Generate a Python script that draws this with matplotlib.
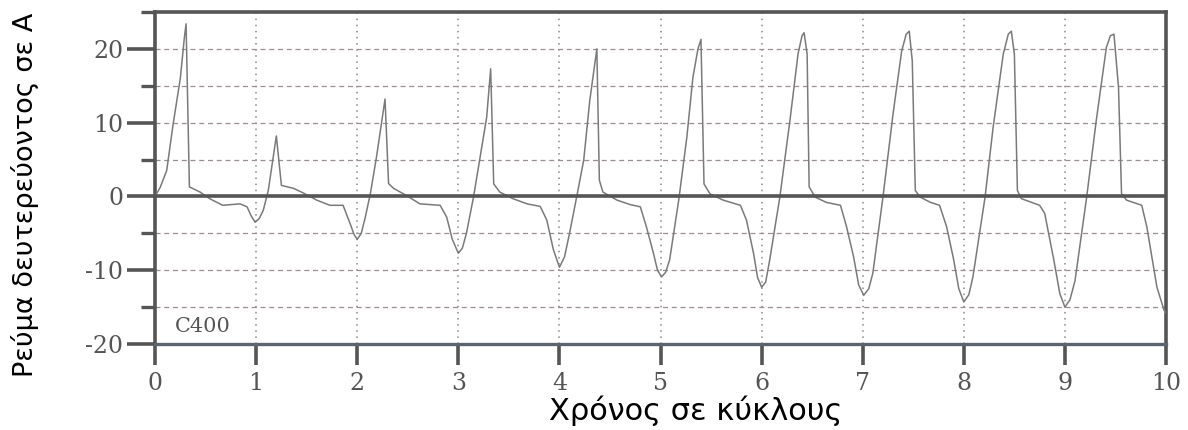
import numpy as np
import matplotlib.pyplot as plt
from matplotlib.ticker import MultipleLocator

plt.rcParams['axes.unicode_minus'] = False

# secondary current (time in cycles, current in A)
t_cycles = [0.0, 0.05, 0.115, 0.18, 0.25, 0.29, 0.307, 0.34, 0.445, 0.54, 0.67, 0.84, 0.91, 0.95, 0.99,
            1.03, 1.07, 1.12, 1.16, 1.2, 1.25, 1.37, 1.47, 1.6, 1.73, 1.86, 1.93, 1.97,
            2.0, 2.04, 2.08, 2.13, 2.19, 2.24, 2.275, 2.31, 2.36, 2.49, 2.62, 2.82, 2.885, 2.94,
            3.0, 3.04, 3.08, 3.15, 3.21, 3.28, 3.32, 3.35, 3.41, 3.54, 3.68, 3.81, 3.875, 3.94,
            4.0, 4.05, 4.1, 4.17, 4.24, 4.3, 4.37, 4.395, 4.43, 4.57, 4.70, 4.80, 4.86, 4.93, 4.97,
            5.01, 5.05, 5.09, 5.18, 5.26, 5.32, 5.37, 5.40, 5.43, 5.49, 5.62, 5.79, 5.85, 5.92, 5.96,
            6.0, 6.04, 6.08, 6.18, 6.28, 6.36, 6.40, 6.42, 6.45, 6.47, 6.53, 6.64, 6.78, 6.84, 6.91, 6.96,
            7.01, 7.06, 7.10, 7.20, 7.30, 7.385, 7.43, 7.46, 7.49, 7.52, 7.57, 7.67, 7.76, 7.83, 7.90, 7.95,
            8.0, 8.05, 8.09, 8.21, 8.29, 8.39, 8.44, 8.47, 8.50, 8.53, 8.57, 8.75, 8.80, 8.89, 8.95,
            9.0, 9.05, 9.10, 9.215, 9.31, 9.41, 9.45, 9.485, 9.53, 9.56, 9.61, 9.76, 9.81, 9.91, 9.98, 10.0]
i_sec = [0.0, 1.2, 3.5, 9.9, 16.0, 21.5, 23.4, 1.3, 0.6, -0.3, -1.2, -1.0, -1.4, -2.6, -3.5,
         -3.0, -1.9, 0.8, 4.5, 8.2, 1.5, 1.1, 0.45, -0.5, -1.2, -1.2, -3.7, -5.2,
         -5.8, -5.0, -2.8, 0.4, 5.3, 9.9, 13.2, 1.75, 1.1, 0.1, -1.0, -1.2, -2.8, -5.8,
         -7.7, -7.0, -5.0, -0.1, 4.9, 10.7, 17.3, 1.7, 0.6, -0.3, -1.0, -1.35, -3.2, -7.2,
         -9.6, -8.2, -5.0, -0.1, 4.9, 13.0, 20.0, 2.2, 0.6, -0.5, -1.1, -1.4, -4.1, -7.7, -10.0,
         -10.9, -10.3, -8.6, -0.5, 8.0, 16.1, 20.0, 21.3, 1.7, 0.35, -0.5, -1.2, -3.2, -7.7, -11.0,
         -12.3, -11.6, -8.6, -0.1, 10.3, 19.3, 21.8, 22.2, 19.3, 1.3, -0.1, -0.8, -1.2, -4.1, -8.2, -12.0,
         -13.4, -12.5, -10.4, -0.1, 11.2, 19.7, 22.0, 22.4, 18.4, 0.8, -0.1, -0.8, -1.2, -4.1, -8.6, -12.5,
         -14.3, -13.3, -10.9, -0.1, 9.4, 19.3, 22.0, 22.4, 19.3, 0.8, -0.3, -1.2, -2.3, -8.6, -13.2,
         -15.0, -14.0, -11.4, -0.1, 10.3, 20.2, 21.8, 22.0, 14.8, 0.35, -0.5, -1.2, -4.1, -12.3, -15.4, -15.8]

x_ticks = list(range(0, 11))
y_ticks = [-20, -10, 0, 10, 20]

dark = '#555555'
serif = ['DejaVu Serif']

fig = plt.figure(figsize=(11.88, 4.30), dpi=100)
ax = fig.add_axes([0.1305, 0.2, 0.851, 0.772])

ax.plot(t_cycles, i_sec, color='#7a7a7a', lw=1.1, zorder=3)
ax.axhline(0, color=dark, lw=2.6, zorder=4)

ax.set_xlim(0, 10)
ax.set_ylim(-20, 25)
ax.set_xticks(x_ticks)
ax.set_yticks(y_ticks)
ax.yaxis.set_minor_locator(MultipleLocator(5))

# grid: dotted verticals, dashed horizontals every 5
for x in x_ticks[1:-1]:
    ax.axvline(x, color='#888888', lw=1.1, ls=(0, (1, 3)), zorder=1)
for y in [-15, -10, -5, 5, 10, 15, 20]:
    ax.axhline(y, color='#9a8f8f', lw=0.9, ls=(0, (4, 3)), zorder=1)

for s in ['left', 'top', 'right']:
    ax.spines[s].set_color(dark)
    ax.spines[s].set_linewidth(2.6)
ax.spines['bottom'].set_color('#5a6570')
ax.spines['bottom'].set_linewidth(2.4)

ax.tick_params(axis='y', which='major', length=20, width=2.6, color=dark,
               labelsize=17, labelcolor='#555555', pad=3)
ax.tick_params(axis='y', which='minor', length=10, width=2.4, color=dark)
ax.tick_params(axis='x', which='major', length=15, width=2.6, color=dark,
               labelsize=17, labelcolor='#555555', pad=5)
for lab in ax.get_xticklabels() + ax.get_yticklabels():
    lab.set_family(serif)

ax.text(0.2, -17.6, 'C400', family=serif, fontsize=15, color='#555555', va='center', ha='left')

ax.set_xlabel('Χρόνος σε κύκλους', fontsize=22, color='black', labelpad=0,
              family=['DejaVu Sans'])
ax.xaxis.set_label_coords(0.535, -0.155)
fig.text(25 / 1188, 1 - 195 / 430, 'Ρεύμα δευτερεύοντος σε A', rotation=90,
         fontsize=19.5, color='black', ha='center', va='center', family=['DejaVu Sans'])

fig.savefig('out.png', dpi=100)
